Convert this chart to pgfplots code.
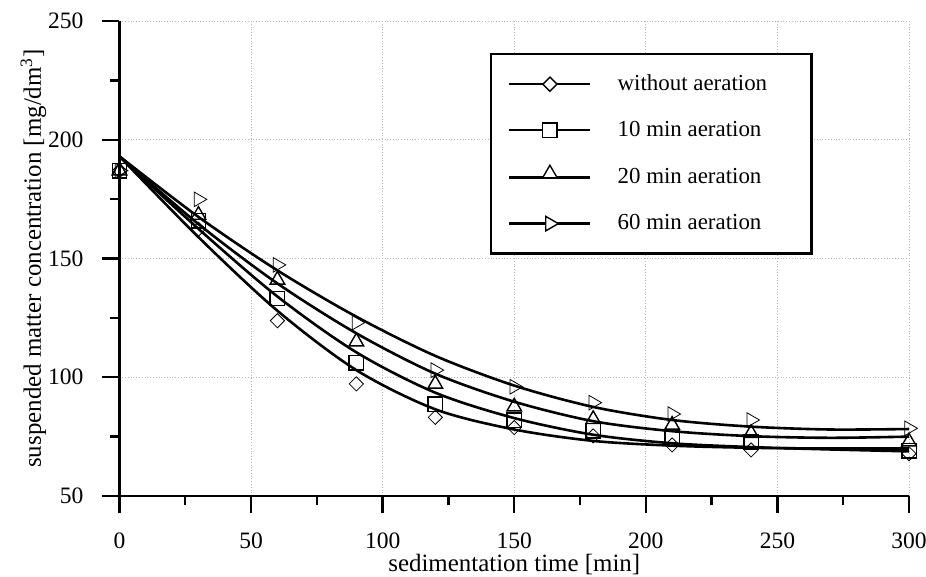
\documentclass[border=0pt]{standalone}
\usepackage{fontspec}
\setmainfont{Liberation Serif}
\usepackage{pgfplots}
\usepackage{pgfplotstable}
\pgfplotsset{compat=1.18}

% measured points
\pgfplotstableread{
x    a     b     c     d
0    187   187   187   187
30   162.3 165.9 168.3 174.9
60   123.8 133.2 141.0 147.3
90   97.2  106.1 115.0 123.0
120  83.1  88.7  97.2  103.0
150  78.8  82.0  87.6  96.0
180  75.3  77.5  82.3  89.3
210  71.5  74.3  79.9  84.5
240  69.4  72.9  76.4  82.0
300  67.8  69.1  72.9  78.5
}\pts

% fitted curves
\pgfplotstableread{
x    a     b     c     d
0    193   193   193   193
30   159   162.5 164.5 167.5
60   128   134   139.5 145
90   103   110.5 118.5 125.5
120  86.5  93.5  101.5 109
150  78    82.8  89.7  96.5
180  73.2  75.8  81.5  87.5
210  71.2  72.2  77.3  82
240  70.3  70.6  75.2  79.2
270  70    69.6  74.5  78
300  70    68.8  75    78.2
}\fits

\begin{document}
\begin{tikzpicture}
\begin{axis}[
  name=ax,
  scale only axis,
  width=394.75bp, height=237.5bp,
  xmin=0, xmax=300, ymin=50, ymax=250,
  xtick={0,50,...,300}, ytick={50,100,...,250},
  minor x tick num=1, minor y tick num=1,
  axis lines=left, axis line style={-, line width=1.2bp},
  tick align=outside,
  major tick length=8.5bp, minor tick length=4.5bp,
  tick style={black, line width=1.2bp},
  grid=major,
  grid style={densely dotted, gray!55, line width=0.5bp},
  tick label style={font=\fontsize{11.8}{13}\selectfont},
  xticklabel style={yshift=-6.5bp},
  yticklabel style={xshift=-6bp},
  /pgf/number format/assume math mode=true,
  label style={font=\fontsize{12.5}{14}\selectfont},
  xlabel={sedimentation time [min]},
  ylabel={suspended matter concentration [mg/dm\textsuperscript{3}]},
  xlabel style={at={(axis description cs:0.5,0)}, anchor=center, yshift=-34.5bp},
  ylabel style={at={(axis description cs:0,0.5)}, anchor=center, yshift=43bp},
  legend image code/.code={\draw[mark repeat=2, mark phase=2, #1]
      plot coordinates {(0bp,0bp) (20.25bp,0bp) (40.5bp,0bp)};},
  legend cell align=left,
  legend style={at={(0.4693,0.9326)}, anchor=north west,
    draw=black, line width=1.2bp,
    inner xsep=8.5bp, inner ysep=9.5bp, row sep=12bp,
    font=\fontsize{11.5}{13}\selectfont,
    nodes={inner sep=0pt, text height=8.5bp, text depth=2.5bp},
    /tikz/every odd column/.append style={column sep=13bp}},
  mk/.style={only marks, black, mark options={line width=0.7bp, solid}},
  fit/.style={black, line width=1.3bp, smooth, no markers},
]

\addplot[fit, forget plot] table[x=x, y=a] {\fits};
\addplot[fit, forget plot] table[x=x, y=b] {\fits};
\addplot[fit, forget plot] table[x=x, y=c] {\fits};
\addplot[fit, forget plot] table[x=x, y=d] {\fits};

\addplot[mk, mark=square, mark size=2.5bp, mark options={rotate=45}, forget plot] table[x=x, y=a] {\pts};
\addplot[mk, mark=square, mark size=3.6bp, forget plot] table[x=x, y=b] {\pts};
\addplot[mk, mark=triangle, mark size=4.2bp, forget plot] table[x=x, y=c] {\pts};
\addplot[mk, mark=triangle, mark size=4.2bp, mark options={rotate=-90}, forget plot] table[x=x, y=d] {\pts};

\addlegendimage{black, line width=1.2bp, mark=square*, mark size=2.5bp,
  mark options={rotate=45, fill=white, line width=0.7bp}}
\addlegendentry{\makebox[88.5bp][l]{without aeration}}
\addlegendimage{black, line width=1.2bp, mark=square*, mark size=3.6bp,
  mark options={fill=white, line width=0.7bp}}
\addlegendentry{\makebox[88.5bp][l]{10 min aeration}}
\addlegendimage{black, line width=1.2bp, mark=triangle*, mark size=4.2bp,
  mark options={fill=white, line width=0.7bp, yshift=2bp}}
\addlegendentry{\makebox[88.5bp][l]{20 min aeration}}
\addlegendimage{black, line width=1.2bp, mark=triangle*, mark size=4.2bp,
  mark options={rotate=-90, fill=white, line width=0.7bp}}
\addlegendentry{\makebox[88.5bp][l]{60 min aeration}}
\end{axis}
\pgfresetboundingbox
\path ([shift={(-59.75bp,-40.5bp)}]ax.south west) rectangle ([shift={(8.5bp,10.5bp)}]ax.north east);
\end{tikzpicture}
\end{document}
